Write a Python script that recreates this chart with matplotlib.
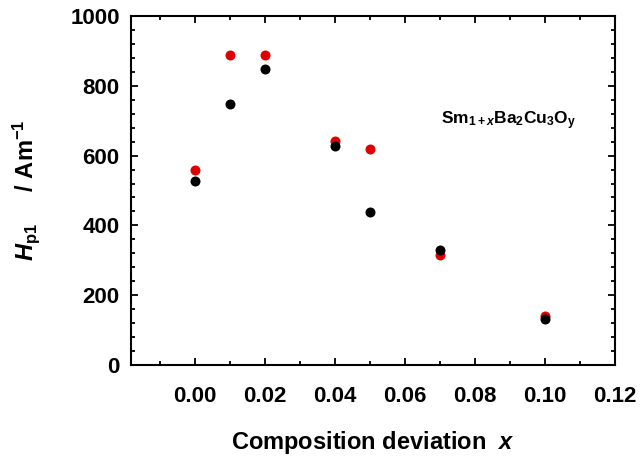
import matplotlib
matplotlib.use("Agg")
import matplotlib.pyplot as plt
from matplotlib.ticker import MultipleLocator

x = [0.00, 0.01, 0.02, 0.04, 0.05, 0.07, 0.10]
hp1_red = [558, 887, 887, 641, 618, 316, 140]
hp1_black = [528, 749, 848, 628, 437, 330, 131]

plt.rcParams['font.family'] = ['Liberation Sans', 'DejaVu Sans']
plt.rcParams['font.weight'] = 'bold'
plt.rcParams['mathtext.fontset'] = 'custom'
plt.rcParams['mathtext.rm'] = 'Liberation Sans:bold'
plt.rcParams['mathtext.bf'] = 'Liberation Sans:bold'
plt.rcParams['mathtext.it'] = 'Liberation Sans:italic:bold'

fig = plt.figure(figsize=(6.41, 4.59), dpi=100)
ax = fig.add_axes([0.204, 0.205, 0.755, 0.76])

ax.plot(x, hp1_red, 'o', color='#e00000', markersize=7.2, markeredgewidth=0, zorder=3)
ax.plot(x, hp1_black, 'o', color='black', markersize=7.2, markeredgewidth=0, zorder=4)

ax.set_xlim(-0.0183, 0.12)
ax.set_ylim(0, 1000)
ax.set_xticks([0.00, 0.02, 0.04, 0.06, 0.08, 0.10, 0.12])
ax.set_xticklabels(['0.00', '0.02', '0.04', '0.06', '0.08', '0.10', '0.12'])
ax.xaxis.set_minor_locator(MultipleLocator(0.01))
ax.set_yticks([0, 200, 400, 600, 800, 1000])
ax.yaxis.set_minor_locator(MultipleLocator(40))

for s in ax.spines.values():
    s.set_linewidth(1.5)
ax.tick_params(which='both', direction='in', top=True, right=True, width=1.3)
ax.tick_params(which='major', length=5, labelsize=16)
ax.tick_params(axis='x', which='major', pad=15)
ax.tick_params(axis='y', which='major', pad=8)
ax.tick_params(which='minor', length=3)
for lab in ax.get_xticklabels() + ax.get_yticklabels():
    lab.set_fontweight('bold')

ax.set_xlabel(r'Composition deviation  $\mathit{x}$', fontsize=17, fontweight='bold', labelpad=16)
ax.set_ylabel(r'$\mathit{H}_{\mathbf{p1}}$     / Am$^{\mathbf{-1}}$', fontsize=17, fontweight='bold', labelpad=20)

ax.text(0.0897, 700, r'Sm$_{\mathbf{1+}\mathit{x}}$Ba$_{\mathbf{2}}$Cu$_{\mathbf{3}}$O$_{\mathbf{y}}$',
        fontsize=12.5, fontweight='bold', ha='center', va='center')

fig.savefig('out.png', dpi=100)
